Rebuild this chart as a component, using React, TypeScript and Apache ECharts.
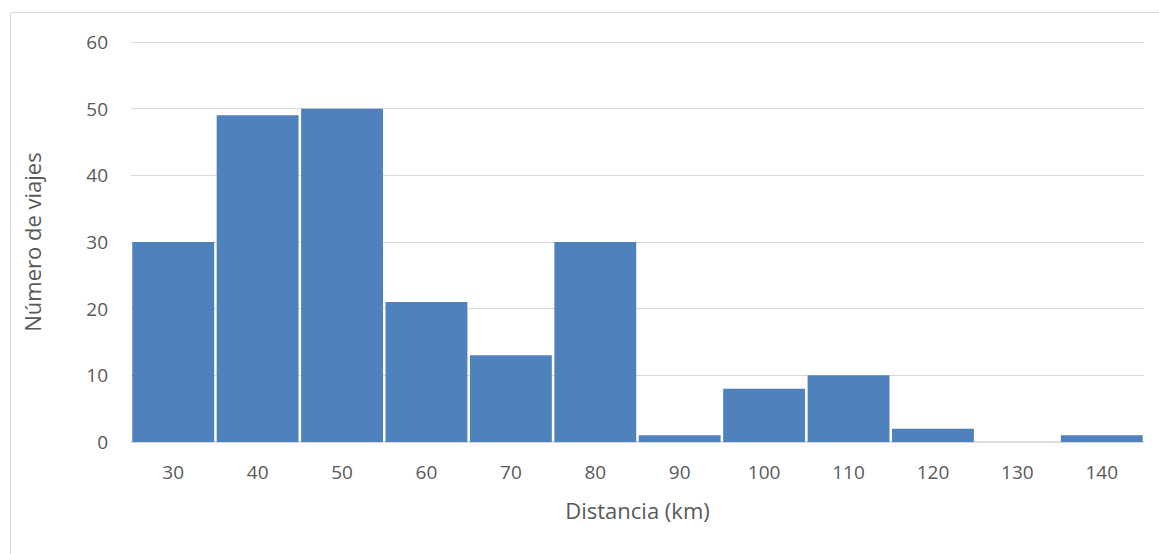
import React, { useEffect, useRef } from "react";
import * as echarts from "echarts";

const categories = ["30", "40", "50", "60", "70", "80", "90", "100", "110", "120", "130", "140"];
const counts = [30, 49, 50, 21, 13, 30, 1, 8, 10, 2, 0, 1];
const yTicks = { min: 0, max: 60, interval: 10 };

export default function App() {
  const ref = useRef<HTMLDivElement>(null);
  useEffect(() => {
    if (!ref.current) return;
    const chart = echarts.init(ref.current, undefined, { renderer: "svg" });
    const font = "'Open Sans', sans-serif";
    chart.setOption({
      animation: false,
      backgroundColor: "#ffffff",
      textStyle: { fontFamily: font },
      graphic: [
        {
          type: "rect",
          shape: { x: 10.5, y: 12.5, width: 1160, height: 560 },
          style: { fill: "none", stroke: "#D9D9D9", lineWidth: 1 },
          silent: true,
        },
      ],
      grid: { left: 131, right: 15, top: 42, bottom: 112 },
      xAxis: {
        type: "category",
        data: categories,
        name: "Distancia (km)",
        nameLocation: "middle",
        nameGap: 57,
        nameTextStyle: { color: "#595959", fontSize: 22, fontFamily: font },
        axisLine: { lineStyle: { color: "#D9D9D9", width: 1.5 } },
        axisTick: { show: false },
        axisLabel: { color: "#595959", fontSize: 19, margin: 20, fontFamily: font },
      },
      yAxis: {
        type: "value",
        min: yTicks.min,
        max: yTicks.max,
        interval: yTicks.interval,
        name: "Número de viajes",
        nameLocation: "middle",
        nameGap: 88,
        nameTextStyle: { color: "#595959", fontSize: 22, fontFamily: font },
        axisLine: { show: false },
        axisTick: { show: false },
        axisLabel: { color: "#595959", fontSize: 19, margin: 23, fontFamily: font },
        splitLine: { lineStyle: { color: "#D9D9D9", width: 1 } },
      },
      series: [
        {
          type: "bar",
          data: counts,
          barCategoryGap: "3%",
          itemStyle: { color: "#4F81BD" },
        },
      ],
    });
    return () => chart.dispose();
  }, []);
  return (
    <div
      ref={ref}
      style={{ position: "fixed", left: 0, top: 0, width: 1159, height: 554 }}
    />
  );
}
